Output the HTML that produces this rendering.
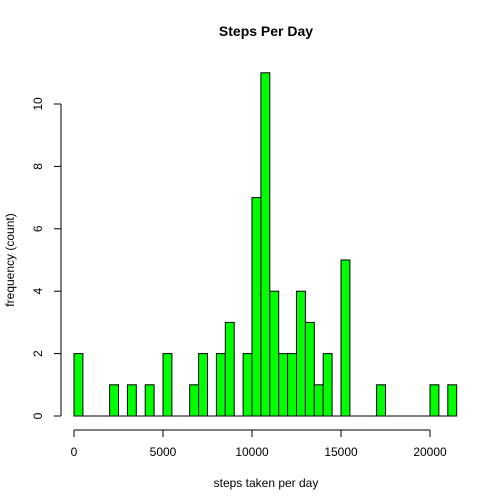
<!DOCTYPE html>
<html><head><meta charset="utf-8"><style>
html,body{margin:0;padding:0;background:#fff;}
svg{display:block;font-family:"Liberation Sans",Arial,sans-serif;}
</style></head><body>
<svg id="chart" width="504" height="504" viewBox="0 0 504 504">
<text x="266" y="36" text-anchor="middle" font-size="14" font-weight="bold">Steps Per Day</text>
<text x="266" y="487" text-anchor="middle" font-size="12">steps taken per day</text>
<text transform="translate(14,260) rotate(-90)" text-anchor="middle" font-size="12">frequency (count)</text>
<g id="bars"></g>
<g id="xaxis"></g>
<g id="yaxis"></g>
</svg>
<script>
const binStart = 0;
const binWidth = 500;
const counts = [2,0,0,0,1,0,1,0,1,0,2,0,0,1,2,0,2,3,0,2,7,11,4,2,2,4,3,1,2,0,5,0,0,0,1,0,0,0,0,0,1,0,1];
const xTicks = [0,5000,10000,15000,20000];
const yTicks = [0,2,4,6,8,10];
const NS = "http://www.w3.org/2000/svg";
function xs(v){return 74 + (v-0)*(430-74)/20000;}
function ys(v){return 416 - v*(416-104)/10;}
function mk(tag, attrs, parent){const e=document.createElementNS(NS,tag);for(const k in attrs)e.setAttribute(k,attrs[k]);parent.appendChild(e);return e;}
const bars=document.getElementById('bars');
counts.forEach((c,i)=>{
  const x0=xs(binStart+i*binWidth), x1=xs(binStart+(i+1)*binWidth);
  let r;
  if(c>0){
    r=mk('rect',{x:x0,y:ys(c),width:x1-x0,height:ys(0)-ys(c),fill:'#00ff00',stroke:'#000','stroke-width':1},bars);
  } else {
    r=mk('line',{x1:x0,x2:x1,y1:ys(0),y2:ys(0),stroke:'#000','stroke-width':1},bars);
  }
  
  
});
const xa=document.getElementById('xaxis');
mk('line',{x1:xs(xTicks[0]),x2:xs(xTicks[xTicks.length-1]),y1:430,y2:430,stroke:'#000'},xa);
xTicks.forEach(t=>{
  mk('line',{x1:xs(t),x2:xs(t),y1:430,y2:437,stroke:'#000'},xa);
  const tx=mk('text',{x:xs(t),y:456,'text-anchor':'middle','font-size':12},xa);
  tx.textContent=t;
  
  
});
const ya=document.getElementById('yaxis');
mk('line',{x1:61,x2:61,y1:ys(yTicks[0]),y2:ys(yTicks[yTicks.length-1]),stroke:'#000'},ya);
yTicks.forEach(t=>{
  mk('line',{x1:54,x2:61,y1:ys(t),y2:ys(t),stroke:'#000'},ya);
  const tx=mk('text',{transform:'translate(42,'+ys(t)+') rotate(-90)','text-anchor':'middle','font-size':12},ya);
  tx.textContent=t;
  
  
});
</script>
</body></html>
